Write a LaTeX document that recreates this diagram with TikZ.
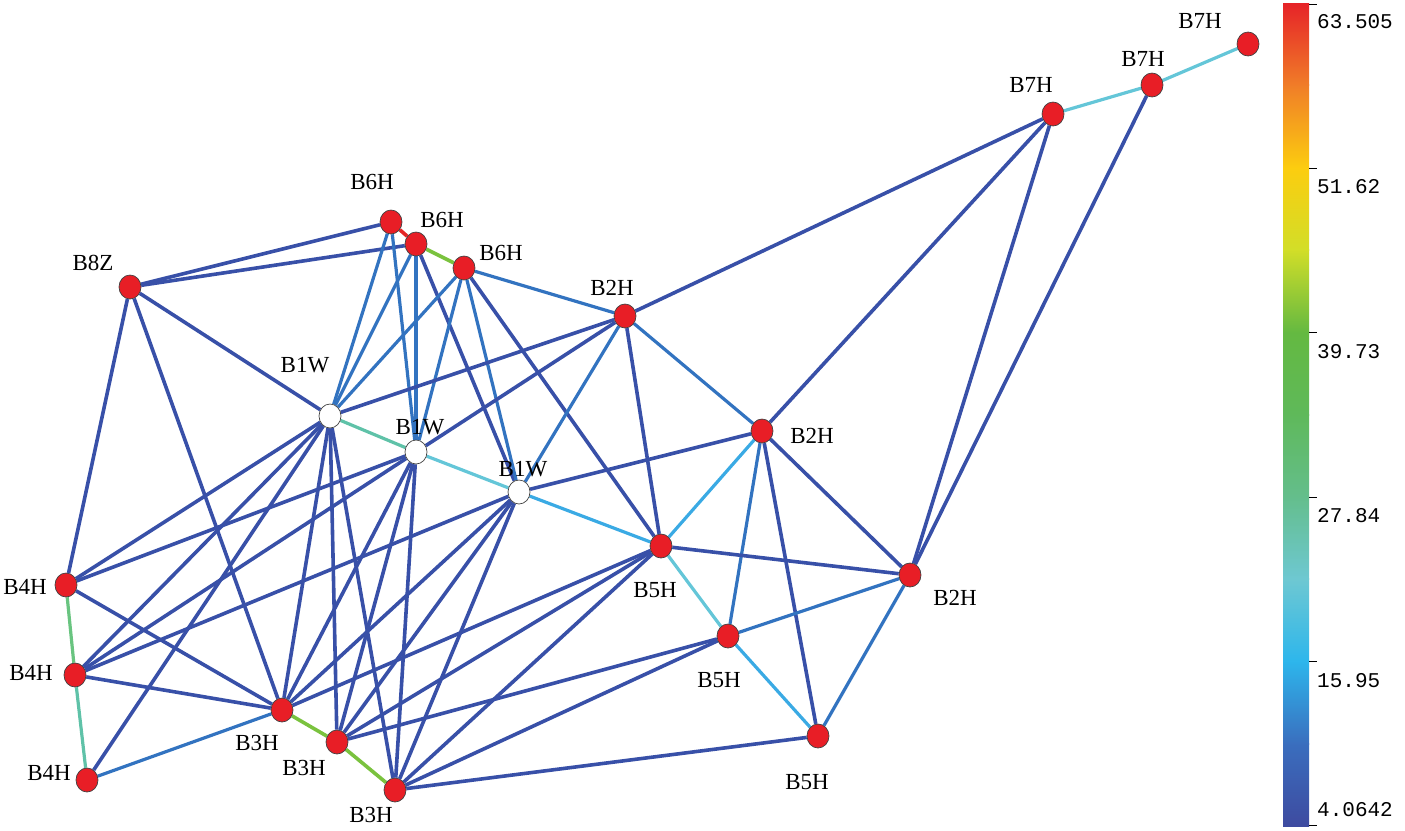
\documentclass[tikz,border=0pt]{standalone}
\usepackage{fontspec}
\setmainfont{Liberation Serif}
\newfontfamily\barfont{Liberation Mono}
\usetikzlibrary{shapes.geometric,backgrounds}

\definecolor{nodered}{RGB}{232,30,38}
\definecolor{dkblue}{RGB}{56,80,168}
\definecolor{mdblue}{RGB}{50,115,192}
\definecolor{ltblue}{RGB}{58,170,228}
\definecolor{cyanedge}{RGB}{100,198,216}
\definecolor{tealedge}{RGB}{95,194,168}
\definecolor{tealgreen}{RGB}{105,196,128}
\definecolor{greenedge}{RGB}{122,194,62}
\definecolor{rededge}{RGB}{228,38,38}
% colour bar stops, bottom to top
\definecolor{cb0}{RGB}{62,75,160}
\definecolor{cb1}{RGB}{58,110,190}
\definecolor{cb2}{RGB}{45,182,236}
\definecolor{cb3}{RGB}{110,200,210}
\definecolor{cb4}{RGB}{100,190,140}
\definecolor{cb5}{RGB}{95,185,90}
\definecolor{cb6}{RGB}{100,185,65}
\definecolor{cb7}{RGB}{210,222,40}
\definecolor{cb8}{RGB}{252,205,15}
\definecolor{cb9}{RGB}{240,125,40}
\definecolor{cb10}{RGB}{230,35,40}

\begin{document}
\begin{tikzpicture}[x=1pt,y=-1pt,
	hnode/.style={ellipse, draw=black!75, line width=0.7pt, fill=nodered,
		minimum width=22pt, minimum height=24pt, inner sep=0pt},
	wnode/.style={hnode, fill=white},
	lbl/.style={font=\fontsize{23}{26}\selectfont, inner sep=0pt},
	barlbl/.style={font=\barfont\fontsize{21}{24}\selectfont, anchor=west, inner sep=0pt},
	dk/.style={draw=dkblue, line width=3.6pt},
	md/.style={draw=mdblue, line width=3.2pt},
	lt/.style={draw=ltblue, line width=3.2pt},
	cy/.style={draw=cyanedge, line width=3.2pt},
	tl/.style={draw=tealedge, line width=3.2pt},
	tg/.style={draw=tealgreen, line width=3.2pt},
	gr/.style={draw=greenedge, line width=3.6pt},
	rd/.style={draw=rededge, line width=3.6pt}]
	\useasboundingbox (0,0) rectangle (1405,830);

	% nodes
	\node (B7Hc) at (1248, 44)	[hnode]	{};
	\node (B7Hb) at (1152, 85)	[hnode]	{};
	\node (B7Ha) at (1053,114)	[hnode]	{};
	\node (B6Ha) at ( 391,222)	[hnode]	{};
	\node (B6Hb) at ( 416,244)	[hnode]	{};
	\node (B6Hc) at ( 464,268)	[hnode]	{};
	\node (B8Z)  at ( 130,287)	[hnode]	{};
	\node (B2Ha) at ( 625,316)	[hnode]	{};
	\node (B2Hb) at ( 762,431)	[hnode]	{};
	\node (B2Hc) at ( 910,575)	[hnode]	{};
	\node (B1Wa) at ( 330,416)	[wnode]	{};
	\node (B1Wb) at ( 416,452)	[wnode]	{};
	\node (B1Wc) at ( 519,492)	[wnode]	{};
	\node (B5Ha) at ( 661,546)	[hnode]	{};
	\node (B5Hb) at ( 728,636)	[hnode]	{};
	\node (B5Hc) at ( 818,736)	[hnode]	{};
	\node (B4Ha) at (  66,585)	[hnode]	{};
	\node (B4Hb) at (  75,675)	[hnode]	{};
	\node (B4Hc) at (  87,780)	[hnode]	{};
	\node (B3Ha) at ( 282,710)	[hnode]	{};
	\node (B3Hb) at ( 337,742)	[hnode]	{};
	\node (B3Hc) at ( 395,790)	[hnode]	{};

	% labels
	\node (tB7Hc) at (1200, 21)	[lbl]	{B7H};
	\node (tB7Hb) at (1143, 59)	[lbl]	{B7H};
	\node (tB7Ha) at (1031, 85)	[lbl]	{B7H};
	\node (tB6Ha) at ( 372,182)	[lbl]	{B6H};
	\node (tB6Hb) at ( 442,220)	[lbl]	{B6H};
	\node (tB6Hc) at ( 501,253)	[lbl]	{B6H};
	\node (tB8Z)  at (  93,263)	[lbl]	{B8Z};
	\node (tB2Ha) at ( 612,288)	[lbl]	{B2H};
	\node (tB2Hb) at ( 812,436)	[lbl]	{B2H};
	\node (tB2Hc) at ( 955,598)	[lbl]	{B2H};
	\node (tB1Wa) at ( 305,365)	[lbl]	{B1W};
	\node (tB1Wb) at ( 420,427)	[lbl]	{B1W};
	\node (tB1Wc) at ( 523,469)	[lbl]	{B1W};
	\node (tB5Ha) at ( 655,590)	[lbl]	{B5H};
	\node (tB5Hb) at ( 719,680)	[lbl]	{B5H};
	\node (tB5Hc) at ( 807,782)	[lbl]	{B5H};
	\node (tB4Ha) at (  25,587)	[lbl]	{B4H};
	\node (tB4Hb) at (  31,673)	[lbl]	{B4H};
	\node (tB4Hc) at (  49,773)	[lbl]	{B4H};
	\node (tB3Ha) at ( 257,743)	[lbl]	{B3H};
	\node (tB3Hb) at ( 304,768)	[lbl]	{B3H};
	\node (tB3Hc) at ( 371,815)	[lbl]	{B3H};

	% edges
	\begin{scope}[on background layer]
	\draw[cy] (B7Hc) -- (B7Hb);
	\draw[cy] (B7Hb) -- (B7Ha);
	\draw[dk] (B7Ha) -- (B2Ha);
	\draw[dk] (B7Ha) -- (B2Hb);
	\draw[dk] (B7Ha) -- (B2Hc);
	\draw[dk] (B7Hb) -- (B2Hc);
	\draw[rd] (B6Ha) -- (B6Hb);
	\draw[gr] (B6Hb) -- (B6Hc);
	\draw[dk] (B8Z) -- (B6Ha);
	\draw[dk] (B8Z) -- (B6Hb);
	\draw[dk] (B8Z) -- (B1Wa);
	\draw[dk] (B8Z) -- (B4Ha);
	\draw[dk] (B8Z) -- (B3Ha);
	\draw[md] (B6Ha) -- (B1Wa);
	\draw[md] (B6Ha) -- (B1Wb);
	\draw[md] (B6Hb) -- (B1Wa);
	\draw[md] (B6Hb) -- (B1Wb);
	\draw[dk] (B6Hb) -- (B1Wc);
	\draw[md] (B6Hc) -- (B1Wa);
	\draw[md] (B6Hc) -- (B1Wb);
	\draw[md] (B6Hc) -- (B1Wc);
	\draw[dk] (B6Hc) -- (B5Ha);
	\draw[md] (B6Hc) -- (B2Ha);
	\draw[dk] (B2Ha) -- (B1Wa);
	\draw[dk] (B2Ha) -- (B1Wb);
	\draw[md] (B2Ha) -- (B1Wc);
	\draw[dk] (B2Ha) -- (B5Ha);
	\draw[md] (B2Ha) -- (B2Hb);
	\draw[dk] (B2Hb) -- (B1Wc);
	\draw[lt] (B2Hb) -- (B5Ha);
	\draw[md] (B2Hb) -- (B5Hb);
	\draw[dk] (B2Hb) -- (B5Hc);
	\draw[dk] (B2Hb) -- (B2Hc);
	\draw[dk] (B2Hc) -- (B5Ha);
	\draw[md] (B2Hc) -- (B5Hb);
	\draw[md] (B2Hc) -- (B5Hc);
	\draw[tl] (B1Wa) -- (B1Wb);
	\draw[cy] (B1Wb) -- (B1Wc);
	\draw[lt] (B1Wc) -- (B5Ha);
	\draw[cy] (B5Ha) -- (B5Hb);
	\draw[lt] (B5Hb) -- (B5Hc);
	\draw[dk] (B1Wa) -- (B4Ha);
	\draw[dk] (B1Wa) -- (B4Hb);
	\draw[dk] (B1Wa) -- (B4Hc);
	\draw[dk] (B1Wa) -- (B3Ha);
	\draw[dk] (B1Wa) -- (B3Hb);
	\draw[dk] (B1Wa) -- (B3Hc);
	\draw[dk] (B1Wb) -- (B4Ha);
	\draw[dk] (B1Wb) -- (B4Hb);
	\draw[dk] (B1Wb) -- (B3Ha);
	\draw[dk] (B1Wb) -- (B3Hb);
	\draw[dk] (B1Wb) -- (B3Hc);
	\draw[dk] (B1Wc) -- (B4Hb);
	\draw[dk] (B1Wc) -- (B3Ha);
	\draw[dk] (B1Wc) -- (B3Hb);
	\draw[dk] (B1Wc) -- (B3Hc);
	\draw[dk] (B5Ha) -- (B3Ha);
	\draw[dk] (B5Ha) -- (B3Hb);
	\draw[dk] (B5Ha) -- (B3Hc);
	\draw[dk] (B5Hb) -- (B3Hb);
	\draw[dk] (B5Hb) -- (B3Hc);
	\draw[dk] (B5Hc) -- (B3Hc);
	\draw[tg] (B4Ha) -- (B4Hb);
	\draw[tl] (B4Hb) -- (B4Hc);
	\draw[dk] (B4Ha) -- (B3Ha);
	\draw[dk] (B4Hb) -- (B3Ha);
	\draw[md] (B4Hc) -- (B3Ha);
	\draw[gr] (B3Ha) -- (B3Hb);
	\draw[gr] (B3Hb) -- (B3Hc);
	\end{scope}

	% colour bar
	\shade[bottom color=cb0, top color=cb1]  (1283,826.0) rectangle (1309,743.2);
	\shade[bottom color=cb1, top color=cb2]  (1283,744.2) rectangle (1309,660.9);
	\shade[bottom color=cb2, top color=cb3]  (1283,661.9) rectangle (1309,578.6);
	\shade[bottom color=cb3, top color=cb4]  (1283,579.6) rectangle (1309,496.3);
	\shade[bottom color=cb4, top color=cb5]  (1283,497.3) rectangle (1309,414.0);
	\shade[bottom color=cb5, top color=cb6]  (1283,415.0) rectangle (1309,331.7);
	\shade[bottom color=cb6, top color=cb7]  (1283,332.7) rectangle (1309,249.4);
	\shade[bottom color=cb7, top color=cb8]  (1283,250.4) rectangle (1309,167.1);
	\shade[bottom color=cb8, top color=cb9]  (1283,168.1) rectangle (1309, 84.8);
	\shade[bottom color=cb9, top color=cb10] (1283, 85.8) rectangle (1309,  3.0);
	\draw[line width=0.8pt] (1309,  4) -- (1317,  4);
	\draw[line width=0.8pt] (1309,168) -- (1317,168);
	\draw[line width=0.8pt] (1309,332) -- (1317,332);
	\draw[line width=0.8pt] (1309,497) -- (1317,497);
	\draw[line width=0.8pt] (1309,661) -- (1317,661);
	\draw[line width=0.8pt] (1309,825) -- (1317,825);
	\node (v6) at (1317, 22)	[barlbl]	{63.505};
	\node (v5) at (1317,187)	[barlbl]	{51.62};
	\node (v4) at (1317,352)	[barlbl]	{39.73};
	\node (v3) at (1317,516)	[barlbl]	{27.84};
	\node (v2) at (1317,681)	[barlbl]	{15.95};
	\node (v1) at (1317,810)	[barlbl]	{4.0642};
\end{tikzpicture}
\end{document}
